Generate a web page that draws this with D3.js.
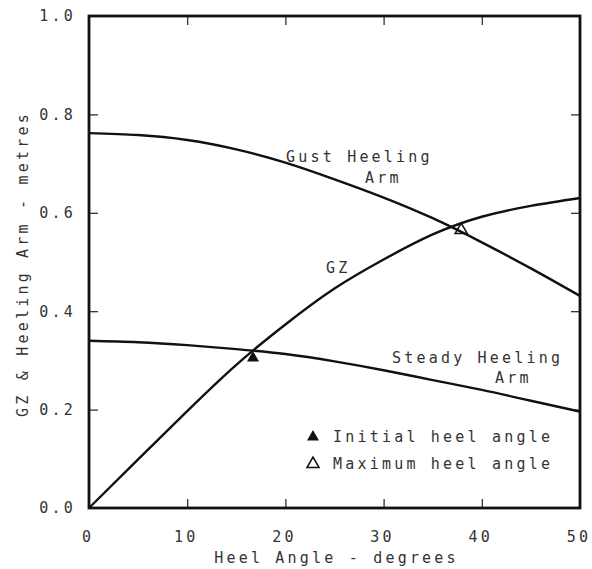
<!DOCTYPE html>
<html>
<head>
<meta charset="utf-8">
<script src="https://cdn.jsdelivr.net/npm/d3@7"></script>
<style>
  html, body { margin: 0; padding: 0; background: #fff; }
  svg text { font-family: "DejaVu Sans Mono", "Liberation Mono", monospace; font-size: 15px; letter-spacing: 3.2px; fill: #333; }
</style>
</head>
<body>
<svg id="chart" width="592" height="569"></svg>
<script>
// Heel angle (degrees) at which each curve is sampled
const heelAngles = [0, 5, 10, 15, 20, 25, 30, 35, 40, 45, 50];
// Righting lever GZ (m)
const gzValues = [0.000, 0.099, 0.197, 0.291, 0.373, 0.446, 0.505, 0.556, 0.592, 0.614, 0.630];
// Gust heeling arm (m)
const gustArm = [0.762, 0.758, 0.748, 0.729, 0.702, 0.668, 0.631, 0.589, 0.540, 0.487, 0.431];
// Steady heeling arm (m)
const steadyArm = [0.340, 0.337, 0.331, 0.323, 0.313, 0.298, 0.280, 0.260, 0.240, 0.218, 0.196];
// Equilibrium angles: [heel angle, lever]
const initialHeel = [16.7, 0.305];
const maximumHeel = [37.9, 0.565];

const xTicks = [0, 10, 20, 30, 40, 50];
const yTicks = [0.0, 0.2, 0.4, 0.6, 0.8, 1.0];

const margin = { left: 89, top: 16, right: 12, bottom: 61 };
const W = 592, H = 569;
const iw = W - margin.left - margin.right;
const ih = H - margin.top - margin.bottom;

const svg = d3.select("#chart");
const g = svg.append("g").attr("transform", `translate(${margin.left},${margin.top})`);

const x = d3.scaleLinear().domain([0, 50]).range([0, iw]);
const y = d3.scaleLinear().domain([0, 1]).range([ih, 0]);

// inward ticks on all four sides
const tickLen = 9;
const axisStyle = sel => {
  sel.select(".domain").remove();
  sel.selectAll(".tick line").attr("stroke", "#222").attr("stroke-width", 1.2);
};
g.append("g").attr("transform", `translate(0,${ih})`)
  .call(d3.axisBottom(x).tickValues(xTicks.slice(1, -1)).tickSize(-tickLen).tickFormat(""))
  .call(axisStyle);
g.append("g")
  .call(d3.axisTop(x).tickValues(xTicks.slice(1, -1)).tickSize(-tickLen).tickFormat(""))
  .call(axisStyle);
g.append("g")
  .call(d3.axisLeft(y).tickValues(yTicks.slice(1, -1)).tickSize(-tickLen).tickFormat(""))
  .call(axisStyle);
g.append("g").attr("transform", `translate(${iw},0)`)
  .call(d3.axisRight(y).tickValues(yTicks.slice(1, -1)).tickSize(-tickLen).tickFormat(""))
  .call(axisStyle);

// tick labels
g.selectAll(".ylab").data(yTicks).join("text")
  .attr("x", -13).attr("y", d => y(d)).attr("dy", "0.36em")
  .attr("text-anchor", "end").text(d => d.toFixed(1));
g.selectAll(".xlab").data(xTicks).join("text")
  .attr("x", d => x(d) - 1).attr("y", ih + 29)
  .attr("dy", "0.36em")
  .attr("text-anchor", "middle").text(d => d);

// frame
g.append("rect").attr("width", iw).attr("height", ih)
  .attr("fill", "none").attr("stroke", "#111").attr("stroke-width", 2.8);

// curves
const line = vals => d3.line()
  .x((d, i) => x(heelAngles[i]))
  .y(d => y(d))
  .curve(d3.curveNatural)(vals);

[gzValues, gustArm, steadyArm].forEach(vals => {
  g.append("path").attr("d", line(vals))
    .attr("fill", "none").attr("stroke", "#111").attr("stroke-width", 2.4)
    .attr("stroke-linejoin", "round");
});

// equilibrium markers
const tri = d3.symbol().type(d3.symbolTriangle).size(62);
g.append("path").attr("d", tri())
  .attr("transform", `translate(${x(initialHeel[0])},${y(initialHeel[1])})`)
  .attr("fill", "#111");
g.append("path").attr("d", tri())
  .attr("transform", `translate(${x(maximumHeel[0])},${y(maximumHeel[1])})`)
  .attr("fill", "none").attr("stroke", "#111").attr("stroke-width", 1.6);

// curve labels
const label = (txt, px, py) => svg.append("text").attr("x", px).attr("y", py).text(txt);
label("Gust Heeling", 286, 162);
label("Arm", 365, 183);
label("GZ", 326, 273);
label("Steady Heeling", 392, 363);
label("Arm", 495, 383);

// legend
svg.append("path").attr("d", tri()).attr("transform", "translate(313,437)").attr("fill", "#111");
svg.append("text").attr("x", 333).attr("y", 442).text("Initial heel angle");
svg.append("path").attr("d", tri()).attr("transform", "translate(313,464)")
  .attr("fill", "none").attr("stroke", "#111").attr("stroke-width", 1.6);
svg.append("text").attr("x", 333).attr("y", 469).text("Maximum heel angle");

// axis titles
svg.append("text").attr("x", margin.left + iw / 2 + 2).attr("y", 563)
  .attr("text-anchor", "middle").text("Heel Angle - degrees");
svg.append("text")
  .attr("transform", `translate(28,${margin.top + ih / 2 + 2}) rotate(-90)`)
  .attr("text-anchor", "middle").text("GZ & Heeling Arm - metres");
</script>
</body>
</html>
